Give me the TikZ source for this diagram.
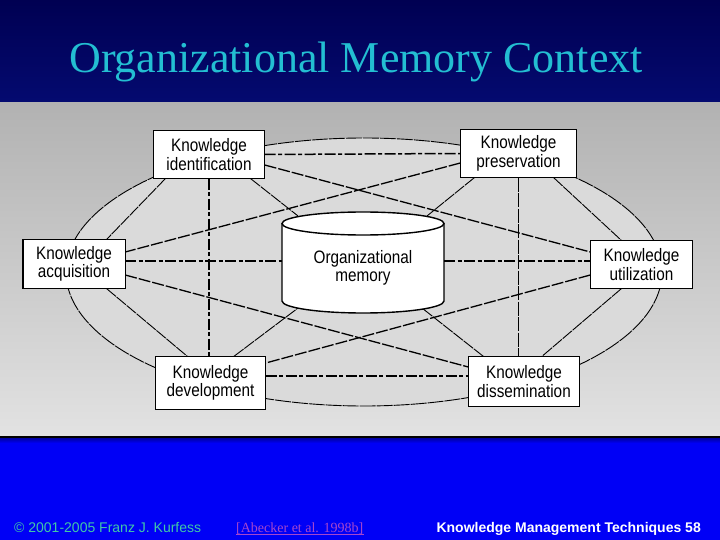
\documentclass[tikz,border=0pt]{standalone}
\usepackage{fontspec}
\setmainfont{Liberation Sans}
\newfontfamily\seriffont{Liberation Serif}
\newfontfamily\boxfont[FakeStretch=0.85]{Liberation Sans}
\usetikzlibrary{calc}
\definecolor{navytop}{RGB}{0,0,82}
\definecolor{navybot}{RGB}{4,10,112}
\definecolor{greytop}{RGB}{178,178,178}
\definecolor{greybot}{RGB}{226,226,226}
\definecolor{ellfill}{RGB}{218,218,218}
\definecolor{footblue}{RGB}{0,0,246}
\definecolor{titlecyan}{RGB}{35,190,210}
\definecolor{copyteal}{RGB}{64,200,168}
\definecolor{refpurple}{RGB}{165,70,205}
\tikzset{
  kbox/.style={draw=black, line width=1.4pt, fill=white, inner sep=0pt, align=center,
    font=\boxfont\fontsize{18}{18.5}\selectfont},
  ktext/.style={inner sep=0pt, align=center, font=\boxfont\fontsize{18}{18.5}\selectfont},
  thickdash/.style={line width=1.5pt, dash pattern=on 11pt off 2.5pt on 4pt off 2.5pt},
  diagdash/.style={line width=1.3pt, dash pattern=on 12pt off 2pt},
  thindash/.style={line width=0.9pt, dash pattern=on 12pt off 1pt},
}
\begin{document}
\begin{tikzpicture}[x=1pt,y=-1pt]
\useasboundingbox (0,0) rectangle (720,540);
% backgrounds
\shade[top color=navytop, bottom color=navybot] (0,0) rectangle (720,102.5);
\shade[top color=greytop, bottom color=greybot] (0,102.5) rectangle (720,435.5);
\fill[black] (0,435.5) rectangle (720,438.5);
\fill[footblue] (0,438.5) rectangle (720,540);
\shade[top color={rgb,255:red,0;green,0;blue,170}, bottom color=footblue] (0,438.5) rectangle (720,443);
% title
\node[font=\seriffont\fontsize{44}{50}\selectfont, text=titlecyan, anchor=base] (title) at (356,73) {Organizational Memory Context};
% outer ellipse
\draw[fill=ellfill, draw=black, line width=0.9pt, dash pattern=on 16pt off 1pt] (364,272) ellipse[x radius=298, y radius=134];
% nodes
\node[kbox, minimum width=110pt, minimum height=47pt] (ident) at (209,154.5) {};
\node[kbox, minimum width=115pt, minimum height=47pt] (preserv) at (518.5,153.5) {};
\node[kbox, minimum width=101pt, minimum height=48pt] (acq) at (74,264) {};
\node[kbox, minimum width=101pt, minimum height=47pt] (util) at (641.5,264.5) {};
\node[kbox, minimum width=109pt, minimum height=52pt] (dev) at (210.5,383) {};
\node[kbox, minimum width=110pt, minimum height=49pt] (dissem) at (524,381.5) {};
\node[inner sep=0pt, minimum width=162pt, minimum height=101pt] (om) at (363,262) {};
% connectors
\draw[thickdash] (ident.east) -- (preserv.west);
\draw[thickdash] ($(acq.east)+(0,-3)$) -- ($(om.west)+(0,-1)$);
\draw[thickdash] ($(om.east)+(0,-1)$) -- ($(util.west)+(0,-3.5)$);
\draw[thickdash] ($(dev.east)+(0,-7)$) -- ($(dissem.west)+(0,-5.5)$);
\draw[thickdash] (ident.south) -- (ident.south |- dev.north);
\draw[thindash, dash pattern=on 14pt off 1.5pt] (preserv.south) -- (preserv.south |- dissem.north);
\draw[diagdash] ($(ident.east)+(0,10.5)$) -- ($(util.west)+(0,-12.5)$);
\draw[diagdash] ($(preserv.west)+(0,9.5)$) -- ($(acq.east)+(0,-12)$);
\draw[diagdash] ($(acq.east)+(0,11)$) -- ($(dissem.west)+(0,-14.5)$);
\draw[diagdash] ($(util.west)+(0,10.5)$) -- ($(dev.east)+(0,-20)$);
\draw[thindash] ($(ident.south west)+(12,0)$) -- ($(acq.north east)+(-18.5,0)$);
\draw[thindash] ($(ident.south east)+(-14,0)$) -- ($(om.north west)+(16,4.5)$);
\draw[thindash] ($(preserv.south west)+(14,0)$) -- ($(om.north east)+(-17,4.5)$);
\draw[thindash] ($(preserv.south east)+(-23,0)$) -- ($(util.north west)+(31,0)$);
\draw[thindash] ($(acq.south east)+(-18.5,0)$) -- ($(dev.north west)+(32,0)$);
\draw[thindash] ($(dev.north)+(23.5,0)$) -- ($(om.south west)+(16,-4.5)$);
\draw[thindash] ($(dissem.north west)+(15,0)$) -- ($(om.south east)+(-22,-4.5)$);
\draw[thindash] ($(util.south west)+(31,0)$) -- ($(dissem.north)+(18,0)$);
% boxes on top of connector ends
\foreach \n in {ident,preserv,acq,util,dev,dissem}{
  \draw[line width=1.4pt, fill=white] (\n.south west) rectangle (\n.north east);
}
\node[ktext] (identtext) at (ident) {Knowledge\\identification};
\node[ktext] (preservtext) at (preserv) {Knowledge\\preservation};
\node[ktext] (acqtext) at (acq) {Knowledge\\acquisition};
\node[ktext] (utiltext) at (util) {Knowledge\\utilization};
\node[ktext] (devtext) at (dev) {Knowledge\\development};
\node[ktext] (dissemtext) at (dissem) {Knowledge\\dissemination};
% cylinder
\fill[white] (282,223.5) rectangle (444,301);
\fill[white] (363,301) ellipse[x radius=81, y radius=12];
\fill[white] (363,223.5) ellipse[x radius=81, y radius=11.5];
\draw[line width=1.4pt] (363,223.5) ellipse[x radius=81, y radius=11.5];
\draw[line width=1.4pt] (282,223.5) -- (282,301) arc[start angle=180, end angle=0, x radius=81, y radius=12] -- (444,223.5);
\node[ktext] (omtext) at (363,268) {Organizational\\memory};
% footer
\node[anchor=base west, inner sep=0pt, text=copyteal, font=\fontsize{14}{16}\selectfont] (copy) at (14,532) {© 2001-2005 Franz J. Kurfess};
\node[anchor=base west, inner sep=0pt, text=refpurple, font=\seriffont\fontsize{14}{16}\selectfont] (ref) at (236,532) {[Abecker et al. 1998b]};
\draw[refpurple, line width=0.6pt] ($(ref.base west)+(0,2)$) -- ($(ref.base east)+(0,2)$);
\node[anchor=base east, inner sep=0pt, text=white, font=\bfseries\fontsize{14}{16}\selectfont] (course) at (701,532) {Knowledge Management Techniques 58};
\end{tikzpicture}
\end{document}
